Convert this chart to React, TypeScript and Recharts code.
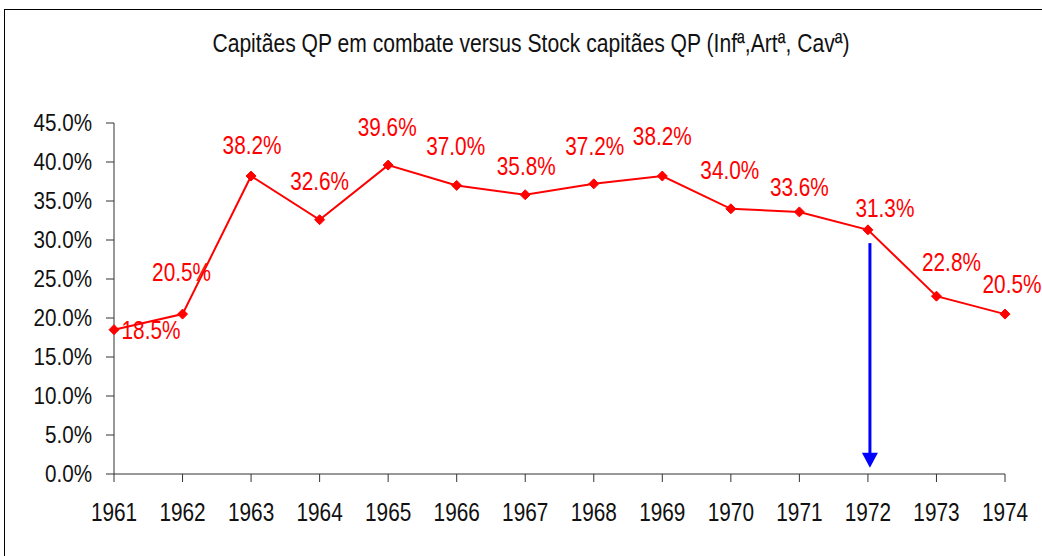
import React from 'react';
import {
    LineChart,
    Line,
    XAxis,
    YAxis,
    LabelList,
    ReferenceLine,
} from 'recharts';

const years = ['1961', '1962', '1963', '1964', '1965', '1966', '1967', '1968', '1969', '1970', '1971', '1972', '1973', '1974'];
const shares = [18.5, 20.5, 38.2, 32.6, 39.6, 37.0, 35.8, 37.2, 38.2, 34.0, 33.6, 31.3, 22.8, 20.5];
const yTicks = [0, 5, 10, 15, 20, 25, 30, 35, 40, 45];
const arrowYear = '1972';
const arrowFrom = 29.6;
const arrowTo = 0.8;

// no Arial Narrow here, so squeeze Liberation Sans (same metrics as Arial)
const FONT = '"Liberation Sans", Arial, sans-serif';

// label placement tweaks (dx, dy of label centre from the point)
const labelOffsets: [number, number][] = [
    [37, 0], [-1, -42], [1, -31], [0, -39], [-1, -38], [-1, -39], [1, -29],
    [1, -38], [0, -40], [-1, -39], [0, -25], [17, -22], [15, -34], [7, -30],
];

const chartData = years.map((year, i) => ({year, share: shares[i]}));

const NarrowText = (props: any) => {
    const {x, y, anchor = 'middle', fill = '#111', baseline = 'central', dy, size = 26, squeeze = 0.8, children} = props;
    return (
        <text
            transform={`translate(${x},${y}) scale(${squeeze},1)`}
            textAnchor={anchor}
            dominantBaseline={baseline}
            dy={dy}
            fill={fill}
            fontSize={size}
            fontFamily={FONT}
        >
            {children}
        </text>
    );
};

const XTick = (props: any) => {
    const {x, y, payload} = props;
    return <NarrowText x={x} y={y} baseline='auto' dy='0.71em'>{payload.value}</NarrowText>;
};

const YTick = (props: any) => {
    const {x, y, payload} = props;
    return (
        <NarrowText x={x} y={y} anchor='end' size={24} squeeze={0.86}>
            {`${Number(payload.value).toFixed(1)}%`}
        </NarrowText>
    );
};

const Diamond = (props: any) => {
    const {cx, cy} = props;
    if (cx == null || cy == null) return null;
    const r = 5;
    return (
        <polygon
            points={`${cx},${cy - r} ${cx + r},${cy} ${cx},${cy + r} ${cx - r},${cy}`}
            fill='#ff0000'
            stroke='#ff0000'
        />
    );
};

const ValueLabel = (props: any) => {
    const {x, y, value, index} = props;
    const [dx, dy] = labelOffsets[index] || [0, -36];
    return (
        <NarrowText x={x + dx} y={y + dy} fill='#ff0000'>
            {`${value.toFixed(1)}%`}
        </NarrowText>
    );
};

const Arrow = (props: any) => {
    const {x1, y1, y2} = props;
    const head = 15;
    return (
        <g>
            <line x1={x1 + 2} y1={y1} x2={x1 + 2} y2={y2 - head + 1} stroke='#0000ff' strokeWidth={3} />
            <polygon
                points={`${x1 - 6},${y2 - head} ${x1 + 10},${y2 - head} ${x1 + 2},${y2}`}
                fill='#0000ff'
            />
        </g>
    );
};

const App: React.FC = () => {
    return (
        <div style={{position: 'absolute', left: 0, top: 0, width: 1042, height: 556, overflow: 'hidden', background: '#fff'}}>
            <div style={{position: 'absolute', left: 4, top: 9, width: 1100, height: 600, border: '1px solid #000'}} />
            <div
                style={{
                    position: 'absolute',
                    left: 10,
                    top: 29,
                    width: 1042,
                    textAlign: 'center',
                    fontFamily: FONT,
                    fontSize: 25,
                    color: '#111',
                    transform: 'scaleX(0.844)',
                }}
            >
                Capitães QP em combate versus Stock capitães QP (Infª,Artª, Cavª)
            </div>
            <LineChart
                width={1042}
                height={556}
                data={chartData}
                margin={{top: 123, right: 37, bottom: 42, left: 34}}
                style={{position: 'absolute', left: 0, top: 0}}
            >
                <XAxis
                    dataKey='year'
                    stroke='#333'
                    tickSize={8}
                    tickMargin={21}
                    height={40}
                    tick={<XTick />}
                    interval={0}
                />
                <YAxis
                    domain={[0, 45]}
                    ticks={yTicks}
                    width={80}
                    stroke='#333'
                    tickSize={8}
                    tickMargin={14}
                    tick={<YTick />}
                    interval={0}
                />
                <ReferenceLine
                    segment={[{x: arrowYear, y: arrowFrom}, {x: arrowYear, y: arrowTo}]}
                    shape={<Arrow />}
                />
                <Line
                    type='linear'
                    dataKey='share'
                    stroke='#ff0000'
                    strokeWidth={2}
                    dot={<Diamond />}
                    activeDot={false}
                    isAnimationActive={false}
                >
                    <LabelList dataKey='share' content={<ValueLabel />} />
                </Line>
            </LineChart>
        </div>
    );
};

export default App;
